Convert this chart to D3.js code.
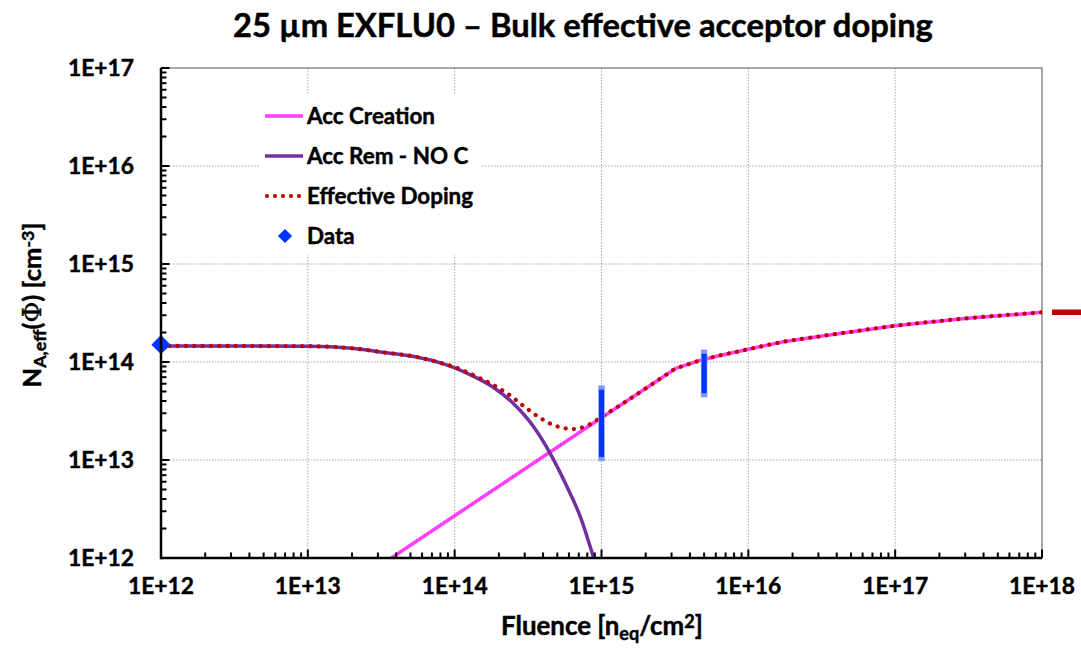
<!DOCTYPE html>
<html>
<head>
<meta charset="utf-8">
<script src="https://cdn.jsdelivr.net/npm/d3@7"></script>
<style>
  html, body { margin: 0; padding: 0; background: #fff; }
  svg { display: block; }
  text { font-family: Lato, "Open Sans", sans-serif; font-weight: bold; fill: #000; stroke: #000; stroke-width: 0.45px; }
</style>
</head>
<body>
<svg id="chart" width="1081" height="649"></svg>
<script>
// ---------------- DATA ----------------
const titleText = "25 \u00b5m EXFLU0 \u2013 Bulk effective acceptor doping";

const xTickValues = [1e12, 1e13, 1e14, 1e15, 1e16, 1e17, 1e18];
const xTickLabels = ["1E+12", "1E+13", "1E+14", "1E+15", "1E+16", "1E+17", "1E+18"];
const yTickValues = [1e12, 1e13, 1e14, 1e15, 1e16, 1e17];
const yTickLabels = ["1E+12", "1E+13", "1E+14", "1E+15", "1E+16", "1E+17"];

// Acc Creation (magenta)
const creationFluence = [1e13, 1e14, 1e15, 3.2e15, 4.6e15, 6.3e15, 1e16, 1.74e16, 3.18e16, 1e17, 3.1e17, 1e18];
const creationValue   = [2.7e11, 2.7e12, 2.7e13, 8.6e13, 1.03e14, 1.16e14, 1.35e14, 1.61e14, 1.84e14, 2.34e14, 2.79e14, 3.21e14];

// Acc Rem - NO C (purple)
const removalFluence = [1e12, 1e13, 2e13, 3.2e13, 5.6e13, 8e13, 1e14, 1.28e14, 1.84e14, 2.5e14, 3.44e14, 4.5e14, 5.8e14, 7.2e14, 8.85e14, 1e15];
const removalValue   = [1.46e14, 1.45e14, 1.38e14, 1.26e14, 1.12e14, 9.8e13, 8.7e13, 7.4e13, 5.5e13, 3.8e13, 2.2e13, 1.15e13, 5.4e12, 2.6e12, 1.0e12, 5.5e11];

// Effective Doping (red dotted)
const effFluence = [1e12, 1e13, 2e13, 3.2e13, 5.6e13, 8e13, 1e14, 1.28e14, 1.84e14, 2.27e14, 3.1e14, 3.8e14, 5e14, 6.5e14, 8.4e14, 1e15, 1.35e15, 2.9e15, 3.2e15, 3.6e15, 4.6e15, 6.3e15, 1e16, 1.74e16, 3.18e16, 1e17, 3.1e17, 1e18];
const effValue   = [1.46e14, 1.45e14, 1.38e14, 1.26e14, 1.12e14, 9.8e13, 8.9e13, 7.6e13, 5.8e13, 4.8e13, 3.35e13, 2.7e13, 2.2e13, 2.07e13, 2.33e13, 2.75e13, 3.65e13, 7.8e13, 8.6e13, 9.1e13, 1.03e14, 1.16e14, 1.35e14, 1.61e14, 1.84e14, 2.34e14, 2.79e14, 3.21e14];

// Data (blue)
const dataFluence = [1e12, 1e15, 5e15];
const dataValue   = [1.5e14, 3.2e13, 8.55e13];
const dataError   = [0, 2.15e13, 3.85e13];

// marker just right of the plot area (red dash)
const offscaleMarker = [3.22e14];

const legendLabels = ["Acc Creation", "Acc Rem - NO C", "Effective Doping", "Data"];

// ---------------- LAYOUT ----------------
const W = 1081, H = 649;
const L = 161, R = 1042, T = 68, B = 558;
const colMag = "#ff3dff", colPur = "#7030a0", colRed = "#c00000", colBlue = "#0033ff";

const svg = d3.select("#chart");
const x = d3.scaleLog().domain([1e12, 1e18]).range([L, R]);
const y = d3.scaleLog().domain([1e12, 1e17]).range([B, T]);

function fitText(sel, target) {
  sel.attr("font-size", 20);
  const w = sel.node().getComputedTextLength();
  const fs = 20 * target / w;
  sel.attr("font-size", fs);
  return fs;
}

// defs / clip
svg.append("defs").append("clipPath").attr("id", "clip")
  .append("rect").attr("x", L).attr("y", T).attr("width", R - L).attr("height", B - T);

// gridlines
const grid = svg.append("g");
grid.selectAll("line.gx").data(xTickValues.slice(1, -1)).enter().append("line")
  .attr("x1", d => x(d)).attr("x2", d => x(d)).attr("y1", T).attr("y2", B)
  .attr("stroke", "#a6a6a6").attr("stroke-width", 1).attr("stroke-dasharray", "1.5,1.5");
grid.selectAll("line.gy").data(yTickValues.slice(1, -1)).enter().append("line")
  .attr("y1", d => y(d)).attr("y2", d => y(d)).attr("x1", L).attr("x2", R)
  .attr("stroke", "#a6a6a6").attr("stroke-width", 1).attr("stroke-dasharray", "1.5,1.5");

// plot border
svg.append("rect").attr("x", L).attr("y", T).attr("width", R - L).attr("height", B - T)
  .attr("fill", "none").attr("stroke", "#6f6f6f").attr("stroke-width", 1.2);

// legend background (covers grid)
const legend = svg.append("g");
legend.append("rect").attr("x", 260).attr("y", 95).attr("width", 222).attr("height", 160).attr("fill", "#fff");

// lines
const plot = svg.append("g").attr("clip-path", "url(#clip)");
const lineLin = d3.line().x(d => x(d[0])).y(d => y(d[1])).curve(d3.curveLinear);
const lineMono = d3.line().x(d => x(d[0])).y(d => y(d[1])).curve(d3.curveMonotoneX);

plot.append("path").datum(d3.zip(creationFluence, creationValue))
  .attr("d", lineLin).attr("fill", "none").attr("stroke", colMag).attr("stroke-width", 3.5)
  .attr("stroke-linejoin", "round");
plot.append("path").datum(d3.zip(removalFluence, removalValue))
  .attr("d", lineMono).attr("fill", "none").attr("stroke", colPur).attr("stroke-width", 3.5);
plot.append("path").datum(d3.zip(effFluence, effValue))
  .attr("d", lineMono).attr("fill", "none").attr("stroke", colRed).attr("stroke-width", 4.2)
  .attr("stroke-linecap", "round").attr("stroke-dasharray", "0.1,8.2");

// error bars
const eb = svg.append("g");
const errData = d3.zip(dataFluence, dataValue, dataError).filter(d => d[2] > 0);
eb.selectAll("line.o").data(errData).enter().append("line")
  .attr("x1", d => x(d[0])).attr("x2", d => x(d[0]))
  .attr("y1", d => y(d[1] + d[2])).attr("y2", d => y(d[1] - d[2]))
  .attr("stroke", "#7d9bff").attr("stroke-width", 6.5).attr("stroke-linecap", "square");
eb.selectAll("line.i").data(errData).enter().append("line")
  .attr("x1", d => x(d[0])).attr("x2", d => x(d[0]))
  .attr("y1", d => y(d[1] + d[2]) + 1).attr("y2", d => y(d[1] - d[2]) - 1)
  .attr("stroke", colBlue).attr("stroke-width", 5);

// data diamond(s) — only points without error bars show a marker
const diamond = d3.symbol().type(d3.symbolSquare).size(185);
svg.append("g").selectAll("path").data(d3.zip(dataFluence, dataValue, dataError).filter(d => d[2] === 0))
  .enter().append("path").attr("d", diamond)
  .attr("transform", d => `translate(${x(d[0])},${y(d[1])}) rotate(45)`)
  .attr("fill", colBlue);

// off-plot red dash
svg.append("g").selectAll("line").data(offscaleMarker).enter().append("line")
  .attr("x1", R + 10).attr("x2", W + 5).attr("y1", d => y(d)).attr("y2", d => y(d))
  .attr("stroke", colRed).attr("stroke-width", 5.5);

// axes ticks
const minorX = [], minorY = [];
for (let e = 12; e < 18; e++) for (let m = 2; m <= 9; m++) minorX.push(m * Math.pow(10, e));
for (let e = 12; e < 17; e++) for (let m = 2; m <= 9; m++) minorY.push(m * Math.pow(10, e));

const ax = svg.append("g");
ax.selectAll("line.mx").data(minorX).enter().append("line")
  .attr("x1", d => x(d)).attr("x2", d => x(d)).attr("y1", B).attr("y2", B - 5.5)
  .attr("stroke", "#000").attr("stroke-width", 2);
ax.selectAll("line.Mx").data(xTickValues).enter().append("line")
  .attr("x1", d => x(d)).attr("x2", d => x(d)).attr("y1", B).attr("y2", B - 8.5)
  .attr("stroke", "#000").attr("stroke-width", 2);
ax.selectAll("line.my").data(minorY).enter().append("line")
  .attr("y1", d => y(d)).attr("y2", d => y(d)).attr("x1", L).attr("x2", L + 5.5)
  .attr("stroke", "#000").attr("stroke-width", 2);
ax.selectAll("line.My").data(yTickValues).enter().append("line")
  .attr("y1", d => y(d)).attr("y2", d => y(d)).attr("x1", L).attr("x2", L + 8.5)
  .attr("stroke", "#000").attr("stroke-width", 2);
ax.append("line").attr("x1", L).attr("x2", R).attr("y1", B).attr("y2", B)
  .attr("stroke", "#000").attr("stroke-width", 2.5);
ax.append("line").attr("x1", L).attr("x2", L).attr("y1", T).attr("y2", B + 1.2)
  .attr("stroke", "#000").attr("stroke-width", 2.5);

// tick labels
const probe = svg.append("text").text("1E+17");
const tickFs = fitText(probe, 66);
probe.remove();
svg.append("g").selectAll("text").data(yTickValues).enter().append("text")
  .attr("x", 134).attr("y", d => y(d) + tickFs * 0.36)
  .attr("text-anchor", "end").attr("font-size", tickFs)
  .text((d, i) => yTickLabels[i]);
svg.append("g").selectAll("text").data(xTickValues).enter().append("text")
  .attr("x", d => x(d)).attr("y", 594)
  .attr("text-anchor", "middle").attr("font-size", tickFs)
  .text((d, i) => xTickLabels[i]);

// title
const title = svg.append("text").attr("x", 583).attr("y", 37).attr("text-anchor", "middle").text(titleText);
fitText(title, 700);

// x axis title
const xt = svg.append("text").attr("x", 602).attr("y", 635).attr("text-anchor", "middle");
xt.append("tspan").text("Fluence [n");
xt.append("tspan").attr("baseline-shift", "-25%").attr("font-size", "70%").text("eq");
xt.append("tspan").text("/cm");
xt.append("tspan").attr("baseline-shift", "40%").attr("font-size", "70%").text("2");
xt.append("tspan").text("]");
xt.attr("font-size", 23);
{
  const w = xt.node().getBBox().width;
  xt.attr("font-size", 23 * 202 / w);
}

// y axis title
const yt = svg.append("text").attr("transform", "translate(41,305) rotate(-90)").attr("text-anchor", "middle");
yt.append("tspan").text("N");
yt.append("tspan").attr("baseline-shift", "-25%").attr("font-size", "70%").text("A,eff");
yt.append("tspan").text("(");
yt.append("tspan").attr("style", "font-family:'DejaVu Serif',serif;font-weight:normal").text("\u03a6");
yt.append("tspan").text(") [cm");
yt.append("tspan").attr("baseline-shift", "40%").attr("font-size", "70%").text("-3");
yt.append("tspan").text("]");
yt.attr("font-size", 23);
{
  const w = yt.node().getBBox().width;
  yt.attr("font-size", 23 * 165 / w);
}

// legend
const rowsY = [116, 156, 196, 236];
const lp = legend.append("text").text(legendLabels[0]);
const legFs = fitText(lp, 128);
lp.remove();
legend.append("line").attr("x1", 265).attr("x2", 303).attr("y1", rowsY[0]).attr("y2", rowsY[0])
  .attr("stroke", colMag).attr("stroke-width", 3.5);
legend.append("line").attr("x1", 265).attr("x2", 303).attr("y1", rowsY[1]).attr("y2", rowsY[1])
  .attr("stroke", colPur).attr("stroke-width", 3.5);
legend.append("line").attr("x1", 267).attr("x2", 303).attr("y1", rowsY[2]).attr("y2", rowsY[2])
  .attr("stroke", colRed).attr("stroke-width", 4).attr("stroke-linecap", "round").attr("stroke-dasharray", "0.1,7.9");
legend.append("path").attr("d", d3.symbol().type(d3.symbolSquare).size(100))
  .attr("transform", `translate(285,${rowsY[3]}) rotate(45)`).attr("fill", colBlue);
legend.selectAll("text.l").data(legendLabels).enter().append("text")
  .attr("x", 307).attr("y", (d, i) => rowsY[i] + legFs * 0.36)
  .attr("font-size", legFs).text(d => d);
</script>
</body>
</html>
